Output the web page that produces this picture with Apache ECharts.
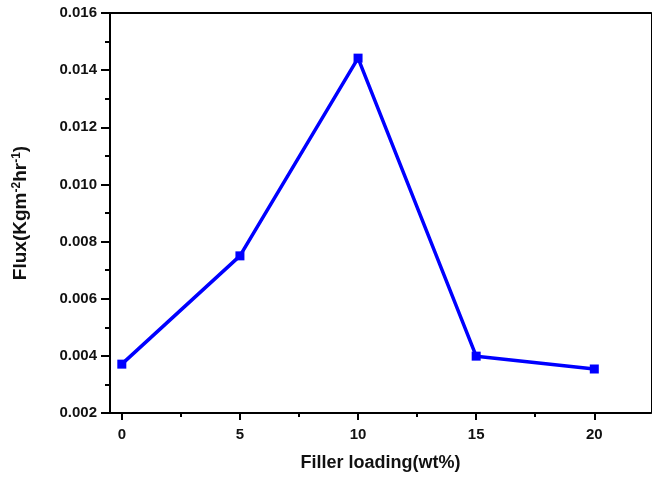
<!DOCTYPE html>
<html>
<head>
<meta charset="utf-8">
<script src="https://cdn.jsdelivr.net/npm/echarts@6/dist/echarts.min.js"></script>
<style>
  html, body { margin: 0; padding: 0; background: #fff; }
  #chart { width: 652px; height: 477px; }
</style>
</head>
<body>
<div id="chart"></div>
<script>
// filler loading (wt%) and flux
const loading = [0, 5, 10, 15, 20];
const flux = [0.00371, 0.0075, 0.01442, 0.00399, 0.00354];
const majorX = [0, 5, 10, 15, 20];
const minorX = [2.5, 7.5, 12.5, 17.5];

const font = 'Liberation Sans, Arial, sans-serif';
const xMin = -0.5, xMax = 22.4;

const chart = echarts.init(document.getElementById('chart'));

const hidden = { show: false };

chart.setOption({
  backgroundColor: '#fff',
  animation: false,
  grid: { left: 110, right: 1, top: 13, bottom: 62 },
  xAxis: [
    {
      type: 'value', min: xMin, max: xMax, position: 'bottom',
      name: 'Filler loading(wt%)', nameLocation: 'middle', nameGap: 41,
      nameTextStyle: { fontFamily: font, fontWeight: 'bold', fontSize: 18, color: '#111' },
      axisLine: { onZero: false, lineStyle: { color: '#000', width: 2 } },
      axisTick: { customValues: majorX, length: 7, lineStyle: { color: '#000', width: 2 } },
      axisLabel: { customValues: majorX, margin: 14, fontFamily: font, fontWeight: 'bold', fontSize: 15, color: '#111' },
      splitLine: hidden,
    },
    {
      type: 'value', min: xMin, max: xMax, position: 'bottom', gridIndex: 0,
      axisLine: { show: false, onZero: false },
      axisTick: { customValues: minorX, length: 4, lineStyle: { color: '#000', width: 2 } },
      axisLabel: hidden, splitLine: hidden,
    },
    {
      type: 'value', min: xMin, max: xMax, position: 'top',
      axisLine: { onZero: false, lineStyle: { color: '#000', width: 2 } },
      axisTick: hidden, axisLabel: hidden, splitLine: hidden,
    },
  ],
  yAxis: [
    {
      type: 'value', min: 0.002, max: 0.016, interval: 0.002, position: 'left',
      name: '{n|Flux(Kgm}{s|-2}{n|hr}{s|-1}{n|)}', nameLocation: 'middle', nameGap: 80,
      nameTextStyle: {
        rich: {
          n: { fontFamily: font, fontWeight: 'bold', fontSize: 19, color: '#111', verticalAlign: 'bottom' },
          s: { fontFamily: font, fontWeight: 'bold', fontSize: 12, color: '#111', verticalAlign: 'top' },
        },
      },
      axisLine: { onZero: false, lineStyle: { color: '#000', width: 2 } },
      axisTick: { length: 9, lineStyle: { color: '#000', width: 2 } },
      minorTick: { show: true, splitNumber: 2, length: 5, lineStyle: { color: '#000', width: 2 } },
      axisLabel: { margin: 13, fontFamily: font, fontWeight: 'bold', fontSize: 15, color: '#111',
        formatter: (v) => v.toFixed(3) },
      splitLine: hidden, minorSplitLine: hidden,
    },
    {
      type: 'value', min: 0.002, max: 0.016, position: 'right',
      axisLine: { show: true, onZero: false, lineStyle: { color: '#000', width: 1 } },
      axisTick: hidden, axisLabel: hidden, splitLine: hidden,
    },
  ],
  series: [
    {
      type: 'line',
      data: loading.map((x, i) => [x, flux[i]]),
      symbol: 'rect',
      symbolSize: 9,
      lineStyle: { color: '#0000ff', width: 3.5 },
      itemStyle: { color: '#0000ff' },
    },
  ],
});
</script>
</body>
</html>
